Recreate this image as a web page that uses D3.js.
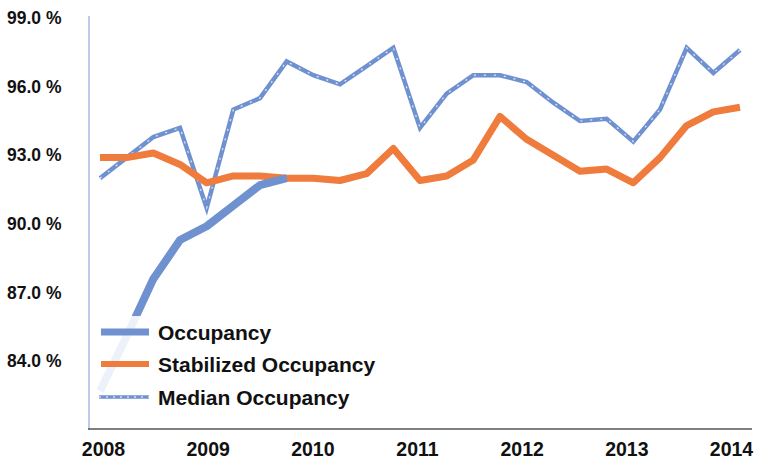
<!DOCTYPE html>
<html>
<head>
<meta charset="utf-8">
<script src="https://cdn.jsdelivr.net/npm/d3@7"></script>
<style>
  body { margin: 0; background: #fff; }
  text { font-family: "Liberation Sans", Arial, sans-serif; }
</style>
</head>
<body>
<script>
// quarterly points, 2008 Q1 .. 2014 Q1
var quarters = d3.range(25).map(function(i){ return 2008 + i * 0.25; });
var occupancy = [82.7, 85.1, 87.6, 89.3, 89.9, 90.8, 91.7, 92.0];
var stabilized = [92.9, 92.9, 93.1, 92.6, 91.8, 92.1, 92.1, 92.0, 92.0, 91.9, 92.2, 93.3, 91.9,
                  92.1, 92.8, 94.7, 93.7, 93.0, 92.3, 92.4, 91.8, 92.9, 94.3, 94.9, 95.1];
var median = [92.0, 92.9, 93.8, 94.2, 90.7, 95.0, 95.5, 97.1, 96.5, 96.1, 96.9, 97.7, 94.2,
              95.7, 96.5, 96.5, 96.2, 95.3, 94.5, 94.6, 93.6, 95.0, 97.7, 96.6, 97.6];
var yTicks = [84, 87, 90, 93, 96, 99];
var xTicks = [2008, 2009, 2010, 2011, 2012, 2013, 2014];
var legendNames = ["Occupancy", "Stabilized Occupancy", "Median Occupancy"];

var width = 758, height = 468;
var blue = "#6f91d0", orange = "#ef7b3c";

var svg = d3.select("body").append("svg")
  .attr("width", width).attr("height", height);

var x = d3.scaleLinear().domain([2008, 2014]).range([100, 740]);
// year labels sit a bit inside the data ends
var xLabels = d3.scaleLinear().domain([2008, 2014]).range([103, 731]);
var y = d3.scaleLinear().domain([81, 99]).range([430, 18]);

// axes
var yAxis = svg.append("g").attr("transform", "translate(89,0)")
  .call(d3.axisLeft(y).tickValues(yTicks).tickSize(0).tickPadding(0)
        .tickFormat(function(d){ return d3.format(".1f")(d) + " %"; }));
yAxis.select(".domain").attr("d", "M0,16V430").attr("stroke", "#8fa9db").attr("stroke-width", 1.2);
yAxis.selectAll("text").attr("text-anchor", "start").attr("x", -82)
  .style("font-size", "17.5px").style("font-weight", "bold").attr("fill", "#111");

var xAxis = svg.append("g").attr("transform", "translate(0,429)")
  .call(d3.axisBottom(xLabels).tickValues(xTicks).tickSize(0).tickPadding(13)
        .tickFormat(d3.format("d")));
xAxis.select(".domain").attr("d", "M88,0H752").attr("stroke", "#555").attr("stroke-width", 1.5);
xAxis.selectAll("text").style("font-size", "19.5px").style("font-weight", "bold").attr("fill", "#111");

var line = d3.line()
  .x(function(d, i){ return x(quarters[i]); })
  .y(function(d){ return y(d); });

svg.append("path").datum(median)
  .attr("d", line).attr("fill", "none").attr("stroke", blue)
  .attr("stroke-width", 4.5).attr("stroke-linejoin", "miter");
svg.append("path").datum(median)
  .attr("d", line).attr("fill", "none").attr("stroke", "#fff")
  .attr("stroke-width", 1.2).attr("stroke-dasharray", "2,8").attr("opacity", 0.8);

svg.append("path").datum(stabilized)
  .attr("d", line).attr("fill", "none").attr("stroke", orange)
  .attr("stroke-width", 7).attr("stroke-linejoin", "round");

svg.append("path").datum(occupancy)
  .attr("d", line).attr("fill", "none").attr("stroke", blue)
  .attr("stroke-width", 8).attr("stroke-linejoin", "round");

// legend
var legend = svg.append("g");
legend.append("rect").attr("x", 95).attr("y", 316).attr("width", 290).attr("height", 100)
  .attr("fill", "#fff").attr("opacity", 0.88);
var ly = [332, 364, 397];
legendNames.forEach(function(name, i){
  var g = legend.append("g");
  if (i == 0) {
    g.append("line").attr("x1", 101).attr("x2", 149).attr("y1", ly[i]).attr("y2", ly[i])
      .attr("stroke", blue).attr("stroke-width", 7);
  } else if (i == 1) {
    g.append("line").attr("x1", 101).attr("x2", 149).attr("y1", ly[i]).attr("y2", ly[i])
      .attr("stroke", orange).attr("stroke-width", 6);
  } else {
    g.append("line").attr("x1", 99).attr("x2", 149).attr("y1", ly[i]).attr("y2", ly[i])
      .attr("stroke", blue).attr("stroke-width", 3.5);
    g.append("line").attr("x1", 99).attr("x2", 149).attr("y1", ly[i]).attr("y2", ly[i])
      .attr("stroke", "#fff").attr("stroke-width", 1).attr("stroke-dasharray", "2,5");
  }
  g.append("text").attr("x", 158).attr("y", ly[i]).attr("dy", "0.36em")
    .style("font-size", "21px").style("font-weight", "bold").attr("fill", "#111").text(name);
});
</script>
</body>
</html>
